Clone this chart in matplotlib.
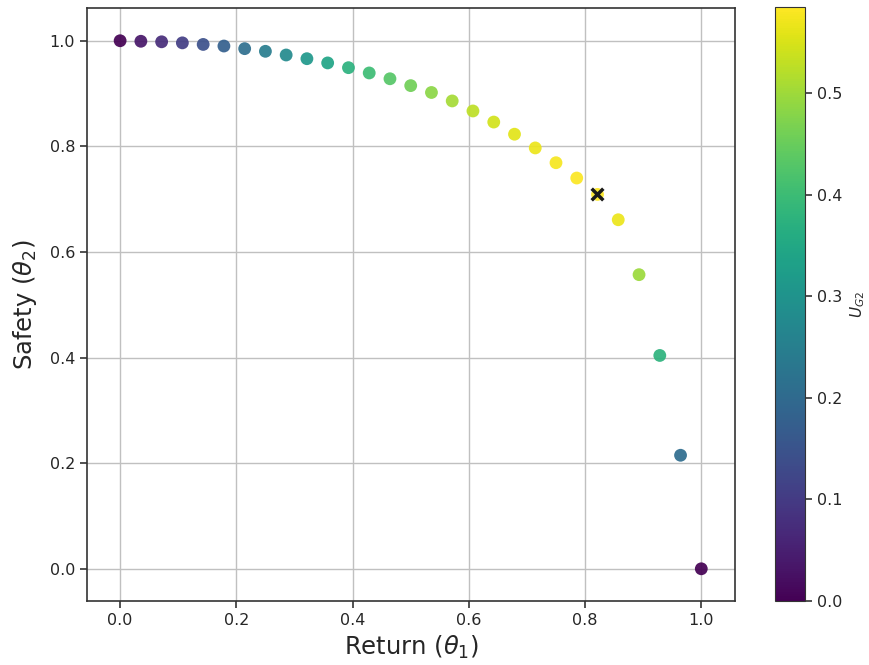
import numpy as np
import matplotlib
matplotlib.use("Agg")
import matplotlib.pyplot as plt

ret = [0.0, 0.0357, 0.0714, 0.1071, 0.1429, 0.1786, 0.2143, 0.25, 0.2857, 0.3214,
       0.3571, 0.3929, 0.4286, 0.4643, 0.5, 0.5357, 0.5714, 0.6071, 0.6429, 0.6786,
       0.7143, 0.75, 0.7857, 0.8214, 0.8571, 0.8929, 0.9286, 0.9643, 1.0]
safety = [1.0, 0.999, 0.998, 0.996, 0.993, 0.990, 0.985, 0.980, 0.973, 0.966,
          0.958, 0.949, 0.939, 0.928, 0.915, 0.902, 0.886, 0.867, 0.846, 0.823,
          0.797, 0.769, 0.740, 0.709, 0.661, 0.557, 0.404, 0.215, 0.0]
u_g2 = [0.0, 0.036, 0.071, 0.107, 0.142, 0.177, 0.211, 0.245, 0.278, 0.311,
        0.342, 0.373, 0.402, 0.431, 0.458, 0.483, 0.506, 0.526, 0.544, 0.559,
        0.569, 0.577, 0.581, 0.582, 0.567, 0.497, 0.375, 0.207, 0.0]
best = (0.8214, 0.709)

txt = "#262626"
plt.rcParams["text.color"] = txt
plt.rcParams["axes.labelcolor"] = txt
plt.rcParams["xtick.color"] = txt
plt.rcParams["ytick.color"] = txt

fig = plt.figure(figsize=(8.69, 6.65), dpi=100)
ax = fig.add_axes([87/869, 1 - 601/665, (735-87)/869, (601-8)/665])
cax = fig.add_axes([775/869, 1 - 601/665, 30/869, (601-7)/665])

sc = ax.scatter(ret, safety, c=u_g2, cmap="viridis", vmin=0, vmax=0.585, s=85,
                edgecolors="none", alpha=0.92, zorder=3)
ax.scatter([best[0]], [best[1]], marker="x", color="#1a1a1a", s=70, linewidths=2.5, zorder=4)

ax.set_xlim(-0.057, 1.058)
ax.set_ylim(-0.061, 1.062)
ax.set_xticks([0.0, 0.2, 0.4, 0.6, 0.8, 1.0])
ax.set_yticks([0.0, 0.2, 0.4, 0.6, 0.8, 1.0])
ax.grid(True, color="#c0c0c0", linewidth=1)
ax.set_axisbelow(True)
for sp in ax.spines.values():
    sp.set_color("#333333")
    sp.set_linewidth(1.2)
ax.tick_params(labelsize=11.5, length=5, width=1.2, color="#333333")
ax.set_xlabel(r"Return ($\theta_1$)", fontsize=17.5)
ax.set_ylabel(r"Safety ($\theta_2$)", fontsize=17.5, labelpad=8)

cb = fig.colorbar(sc, cax=cax)
cb.solids.set_alpha(1.0)
cb.set_ticks([0.0, 0.1, 0.2, 0.3, 0.4, 0.5])
cb.ax.tick_params(labelsize=11.5, length=5, width=1.2, color="#333333")
cb.outline.set_edgecolor("#333333")
cb.set_label(r"$U_{G2}$", fontsize=11)

fig.savefig("out.png", dpi=100)
